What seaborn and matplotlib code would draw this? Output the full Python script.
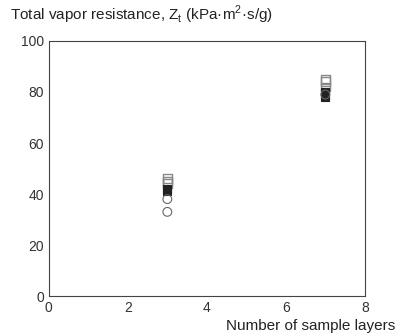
import matplotlib
matplotlib.use("Agg")
import matplotlib.pyplot as plt
import seaborn as sns
import pandas as pd

# data
layers_sq = [3, 3, 3, 7, 7, 7]
zt_sq = [46, 45, 44, 85, 84, 82]
layers_fill = [3, 3, 7, 7, 7]
zt_fill = [42, 41, 80, 79, 78]
layers_circ = [3, 3, 7]
zt_circ = [38, 33, 79]

sns.set_style("white")
plt.rcParams["font.family"] = ["Liberation Sans", "DejaVu Sans"]

fig = plt.figure(figsize=(3.97, 3.36), dpi=100)
ax = fig.add_axes([0.123, 0.119, 0.796, 0.759])

df_sq = pd.DataFrame({"n": layers_sq, "z": zt_sq})
df_fill = pd.DataFrame({"n": layers_fill, "z": zt_fill})
df_circ = pd.DataFrame({"n": layers_circ, "z": zt_circ})

sns.scatterplot(data=df_sq, x="n", y="z", ax=ax, marker="s", s=40,
                facecolor="none", edgecolor="#888888", linewidth=1)
sns.scatterplot(data=df_fill, x="n", y="z", ax=ax, marker="s", s=28,
                color="#222222", edgecolor="#222222", linewidth=0.8)
sns.scatterplot(data=df_circ, x="n", y="z", ax=ax, marker="o", s=40,
                facecolor="none", edgecolor="#666666", linewidth=0.8)

ax.set_xlim(0, 8)
ax.set_ylim(0, 100)
ax.set_xticks([0, 2, 4, 6, 8])
ax.set_yticks([0, 20, 40, 60, 80, 100])
ax.tick_params(direction="in", length=3, labelsize=10, colors="#333333")
for sp in ax.spines.values():
    sp.set_color("#444444")
    sp.set_linewidth(0.8)
ax.set_xlabel("")
ax.set_ylabel("")

fig.text(0.025, 0.955, "Total vapor resistance, Z$_\\mathregular{t}$ (kPa·m$^\\mathregular{2}$·s/g)",
         fontsize=11, ha="left", va="center", color="#222222")
fig.text(0.995, 0.03, "Number of sample layers", fontsize=11, ha="right",
         va="center", color="#222222")

fig.savefig("out.png", dpi=100)
